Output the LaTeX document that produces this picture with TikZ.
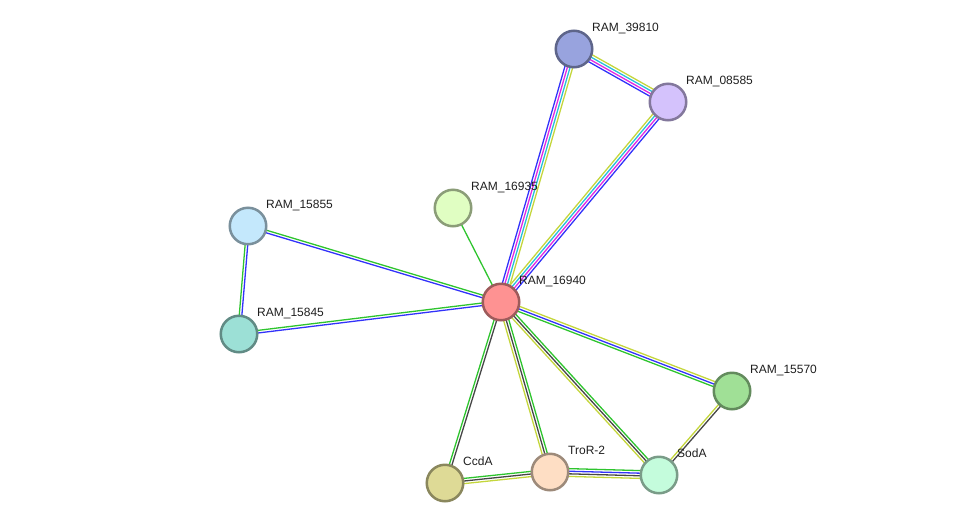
\documentclass[tikz,border=0pt]{standalone}
\usepackage{fontspec}
\setmainfont{Liberation Sans}
\usetikzlibrary{calc, backgrounds}
% evidence channels
\definecolor{evgreen}{RGB}{46,196,46}
\definecolor{evblue}{RGB}{50,50,250}
\definecolor{evyellow}{RGB}{196,214,60}
\definecolor{evmagenta}{RGB}{226,40,226}
\definecolor{evcyan}{RGB}{40,190,220}
\definecolor{evgray}{RGB}{70,70,70}
% protein fills
\definecolor{f39810}{RGB}{152,163,222}
\definecolor{f08585}{RGB}{212,194,252}
\definecolor{f16935}{RGB}{224,254,194}
\definecolor{f15855}{RGB}{196,232,252}
\definecolor{f16940}{RGB}{254,146,146}
\definecolor{f15845}{RGB}{156,224,214}
\definecolor{f15570}{RGB}{160,224,150}
\definecolor{fccda}{RGB}{222,218,150}
\definecolor{ftror}{RGB}{254,222,196}
\definecolor{fsoda}{RGB}{196,252,220}

\tikzset{
    protein/.style={circle, line width=2.5pt, minimum size=36.5pt, inner sep=0pt},
    plabel/.style={anchor=base west, inner sep=0pt, text=black!88, font=\fontsize{12}{14}\selectfont},
    evline/.style={line width=1.3pt}
}
\newcommand{\evlink}[3]{%
    \foreach \c/\o in {#3} {
        \draw[evline, \c] ($(#1.center)!\o pt!90:(#2.center)$) -- ($(#2.center)!\o pt!-90:(#1.center)$);
    }
}

\begin{document}
\begin{tikzpicture}[x=1pt, y=-1pt]
    \useasboundingbox (0,0) rectangle (975,528);

    % Proteins
    \foreach \id/\x/\y/\fc/\txt in {p39810/574/49/f39810/RAM\_39810, p08585/668/102/f08585/RAM\_08585,
        p16935/453/208/f16935/RAM\_16935, p15855/248/226/f15855/RAM\_15855,
        p16940/501/302/f16940/RAM\_16940, p15845/239/334/f15845/RAM\_15845,
        p15570/732/391/f15570/RAM\_15570, ccda/445/483/fccda/CcdA,
        tror/550/472/ftror/TroR-2, soda/659/475/fsoda/SodA} {
        \node[protein, fill=\fc, draw=\fc!62!black] (\id) at (\x,\y) {};
        \node[plabel] (l\id) at ($(\id)+(18,-18)$) {\txt};
    }

    % Interactions
    \begin{scope}[on background layer]
        \evlink{p16940}{p39810}{evblue/3.9, evmagenta/1.3, evcyan/-1.3, evyellow/-3.9}
        \evlink{p16940}{p08585}{evyellow/3.9, evcyan/1.3, evmagenta/-1.3, evblue/-3.9}
        \evlink{p39810}{p08585}{evyellow/3.9, evcyan/1.3, evmagenta/-1.3, evblue/-3.9}
        \evlink{p16940}{p16935}{evgreen/0}
        \evlink{p16940}{p15855}{evblue/1.3, evgreen/-1.3}
        \evlink{p16940}{p15845}{evblue/1.3, evgreen/-1.3}
        \evlink{p15855}{p15845}{evblue/1.3, evgreen/-1.3}
        \evlink{p16940}{p15570}{evyellow/2.6, evblue/0, evgreen/-2.6}
        \evlink{p16940}{soda}{evgreen/2.6, evgray/0, evyellow/-2.6}
        \evlink{p16940}{tror}{evgreen/2.6, evgray/0, evyellow/-2.6}
        \evlink{p16940}{ccda}{evgray/1.3, evgreen/-1.3}
        \evlink{ccda}{tror}{evgreen/2.6, evgray/0, evyellow/-2.6}
        \evlink{tror}{soda}{evgreen/3.9, evblue/1.3, evgray/-1.3, evyellow/-3.9}
        \evlink{soda}{p15570}{evyellow/1.3, evgray/-1.3}
    \end{scope}
\end{tikzpicture}
\end{document}
